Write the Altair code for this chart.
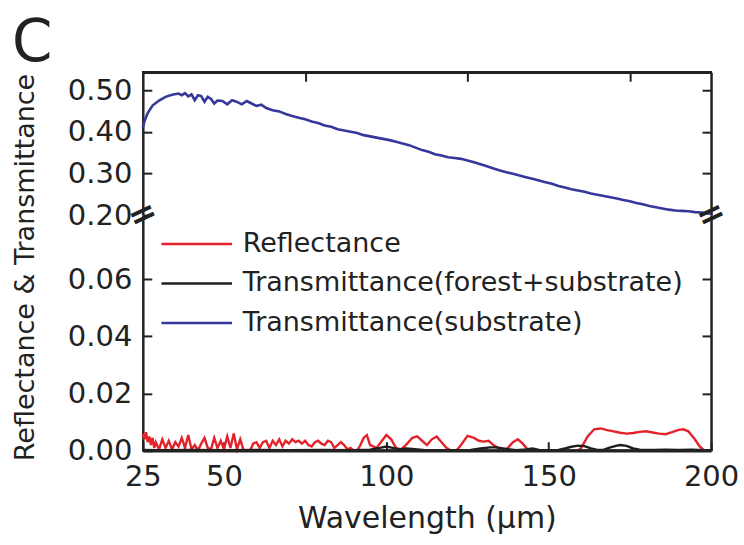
import altair as alt
import pandas as pd

FONT = "DejaVu Sans"
INK = "#222222"

SERIES = ["Reflectance", "Transmittance(forest+substrate)", "Transmittance(substrate)"]
COLORS = ["#E3232B", "#1E1E1E", "#35379A"]

# Transmittance (substrate) - upper panel
wl_sub = [25, 25.5, 26.5, 28, 30, 32, 34, 36, 37, 38, 39, 40, 41, 42, 43, 44, 45, 46, 47, 48,
          49.5, 51, 52.5, 54, 55.5, 57, 58.5, 60, 61.5, 63, 65, 67, 69, 71, 73, 75, 77, 79, 81, 83,
          85, 87, 89, 91, 93, 95, 97, 99, 101, 103, 105, 107, 109, 111, 113, 115, 117, 119, 121, 123,
          125, 127, 129, 131, 133, 135, 137, 139, 141, 143, 145, 147, 149, 151, 153, 155, 157, 159, 161, 163,
          165, 167, 169, 171, 173, 175, 177, 179, 181, 183, 185, 187, 189, 191, 193, 195, 197, 199, 200]
t_sub = [0.410, 0.425, 0.445, 0.463, 0.475, 0.484, 0.489, 0.492, 0.488, 0.493, 0.485, 0.490, 0.476, 0.488, 0.486, 0.472, 0.484, 0.479, 0.468, 0.475,
         0.474, 0.466, 0.476, 0.472, 0.466, 0.474, 0.468, 0.462, 0.465, 0.457, 0.452, 0.449, 0.443, 0.438, 0.434, 0.430, 0.425, 0.421, 0.415, 0.412,
         0.406, 0.403, 0.400, 0.397, 0.392, 0.389, 0.386, 0.383, 0.380, 0.376, 0.372, 0.368, 0.362, 0.356, 0.352, 0.346, 0.343, 0.339, 0.337, 0.335,
         0.331, 0.327, 0.322, 0.317, 0.312, 0.307, 0.303, 0.299, 0.295, 0.291, 0.287, 0.283, 0.279, 0.275, 0.270, 0.266, 0.262, 0.259, 0.256, 0.252,
         0.249, 0.246, 0.243, 0.240, 0.236, 0.233, 0.229, 0.226, 0.222, 0.219, 0.216, 0.213, 0.211, 0.210, 0.209, 0.207, 0.206, 0.204, 0.203]

# Reflectance - lower panel
wl_ref = [25, 25.5, 26, 26.5, 27, 27.5, 28, 28.5, 29, 30, 31, 32, 33, 34, 35, 36, 37, 38, 39, 40,
          41, 42, 43, 44, 45, 46, 47, 48, 49, 50, 51, 52, 53, 54, 55, 56, 57, 58, 59, 60,
          61, 62, 63, 64, 65, 66, 67, 68, 69, 70, 71, 72, 73, 74, 75, 76, 77, 78, 79, 80,
          81, 82, 83, 84, 85, 86, 87, 88, 89, 90, 91, 92, 93, 94, 95, 97, 99, 100, 101.5, 103,
          104.5, 106, 108, 109.5, 111, 112.5, 114, 115.5, 117, 118.5, 120, 121.5, 123, 125, 127, 128.5, 130, 131.5, 133, 135,
          137, 139, 140.5, 142, 143.5, 145, 150, 155, 159, 160, 162, 164, 166, 168, 170, 172, 174, 176, 178, 180,
          182, 184, 186, 188, 190, 191.5, 193, 195, 196.5, 198, 200]
refl = [0.0060, 0.0040, 0.0065, 0.0030, 0.0050, 0.0020, 0.0045, 0.0010, 0.0030, 0.0005, 0.0040, 0.0010, 0.0035, 0.0005, 0.0030, 0.0015, 0.0045, 0.0010, 0.0055, 0.0005,
        0.0020, 0.0002, 0.0025, 0.0045, 0.0010, 0.0005, 0.0045, 0.0010, 0.0035, 0.0005, 0.0050, 0.0010, 0.0060, 0.0005, 0.0040, 0.0003, 0.0000, 0.0000, 0.0025, 0.0030,
        0.0010, 0.0030, 0.0035, 0.0010, 0.0035, 0.0020, 0.0040, 0.0015, 0.0035, 0.0025, 0.0040, 0.0030, 0.0035, 0.0025, 0.0035, 0.0020, 0.0015, 0.0030, 0.0035, 0.0025,
        0.0020, 0.0035, 0.0030, 0.0010, 0.0020, 0.0030, 0.0020, 0.0005, 0.0010, 0.0000, 0.0000, 0.0020, 0.0045, 0.0055, 0.0020, 0.0010, 0.0040, 0.0055, 0.0040, 0.0010,
        0.0005, 0.0020, 0.0045, 0.0050, 0.0035, 0.0020, 0.0040, 0.0050, 0.0030, 0.0010, 0.0000, 0.0000, 0.0020, 0.0052, 0.0045, 0.0035, 0.0032, 0.0035, 0.0020, 0.0005,
        0.0005, 0.0030, 0.0040, 0.0025, 0.0005, 0.0000, 0.0000, 0.0000, 0.0000, 0.0010, 0.0050, 0.0075, 0.0078, 0.0072, 0.0068, 0.0063, 0.0060, 0.0062, 0.0066, 0.0068,
        0.0064, 0.0060, 0.0058, 0.0065, 0.0073, 0.0075, 0.0068, 0.0040, 0.0015, 0.0000, 0.0000]

# Transmittance (forest + substrate) - lower panel
wl_tf = [25, 30, 40, 50, 60, 70, 80, 90, 95, 98, 100, 102, 104, 106, 108, 112, 120, 126, 129, 132,
         134, 137, 140, 143, 145, 147, 150, 153, 155, 157, 159, 161, 163, 165, 167, 169, 171, 172, 174, 176,
         178, 182, 186, 190, 194, 198, 200]
t_forest = [0.0003, 0.0002, 0.0003, 0.0002, 0.0003, 0.0002, 0.0003, 0.0002, 0.0004, 0.0010, 0.0015, 0.0010, 0.0005, 0.0008, 0.0006, 0.0002, 0.0002, 0.0003, 0.0008, 0.0012,
            0.0012, 0.0006, 0.0002, 0.0005, 0.0008, 0.0003, 0.0002, 0.0003, 0.0008, 0.0014, 0.0018, 0.0016, 0.0008, 0.0003, 0.0004, 0.0012, 0.0018, 0.0020, 0.0017, 0.0008,
            0.0004, 0.0003, 0.0004, 0.0003, 0.0004, 0.0002, 0.0002]

X_MIN, X_MAX = 25, 200
TOP_MIN, TOP_MAX = 0.20, 0.543
LOW_MIN, LOW_MAX = 0.0, 0.0824

x_ticks_bottom = [25, 50, 100, 150, 200]
x_ticks_top = [75, 125, 175]
y_ticks_top = [0.20, 0.30, 0.40, 0.50]
y_ticks_top_right = [0.30, 0.40, 0.50]
y_ticks_low = [0.00, 0.02, 0.04, 0.06]
y_ticks_low_right = [0.02, 0.04, 0.06]
break_x = [25, 200]
break_y = [0.20, 0.20]

df_sub = pd.DataFrame({"wl": wl_sub, "val": t_sub, "series": SERIES[2]})
df_low = pd.concat([
    pd.DataFrame({"wl": wl_ref, "val": refl, "series": SERIES[0]}),
    pd.DataFrame({"wl": wl_tf, "val": t_forest, "series": SERIES[1]}),
], ignore_index=True)
df_break = pd.DataFrame({"bx": break_x, "by": break_y})
df_rt_top = pd.DataFrame({"v": y_ticks_top_right})
df_rt_low = pd.DataFrame({"v": y_ticks_low_right})

xs = alt.Scale(domain=[X_MIN, X_MAX], nice=False, zero=False)
ys_top = alt.Scale(domain=[TOP_MIN, TOP_MAX], nice=False, zero=False)
ys_low = alt.Scale(domain=[LOW_MIN, LOW_MAX], nice=False, zero=False)

W = 569
H_TOP = 143
H_LOW = 236

ax = dict(
    labelFont=FONT, labelFontSize=29, labelColor=INK,
    domain=True, domainColor=INK, domainWidth=2.5,
    ticks=True, tickColor=INK, tickWidth=2, tickSize=alt.ExprRef(expr="-9"),
    grid=False,
    titleFont=FONT, titleColor=INK, titleFontWeight="normal",
)

# ---------- upper panel ----------
top_line = alt.Chart(df_sub).mark_line(color=COLORS[2], strokeWidth=2.6).encode(
    x=alt.X("wl:Q", scale=xs,
            axis=alt.Axis(orient="top", values=x_ticks_top, labels=False, title=None, **ax)),
    y=alt.Y("val:Q", scale=ys_top,
            axis=alt.Axis(orient="left", values=y_ticks_top, format=".2f", title=None,
                          labelPadding=20, **ax)),
)
top_edge = alt.Chart(df_sub).mark_rule(color=INK, strokeWidth=2.5).encode(
    x=alt.datum(X_MIN, scale=xs, axis=None),
    x2=alt.datum(X_MAX),
    y=alt.datum(TOP_MAX, scale=ys_top, axis=None),
)
top_breaks = alt.Chart(df_break).mark_text(
    text="=", angle=335, fontSize=34, fontWeight="bold", color=INK, font=FONT
).encode(
    x=alt.X("bx:Q", scale=xs, axis=None),
    y=alt.Y("by:Q", scale=ys_top, axis=None),
)
top_right = alt.Chart(df_rt_top).mark_rule(opacity=0).encode(
    y=alt.Y("v:Q", scale=ys_top,
            axis=alt.Axis(orient="right", values=y_ticks_top_right, labels=False, title=None, **ax)),
)
top = alt.layer(top_line, top_edge, top_breaks, top_right).resolve_axis(
    x="independent", y="independent"
).properties(width=W, height=H_TOP)

# ---------- lower panel ----------
low_lines = alt.Chart(df_low).mark_line(strokeWidth=2.4).encode(
    x=alt.X("wl:Q", scale=xs,
            axis=alt.Axis(orient="bottom", values=x_ticks_bottom, title="Wavelength (μm)",
                          labelPadding=21, labelFlush=False, titlePadding=12,
                          titleFontSize=30, **ax)),
    y=alt.Y("val:Q", scale=ys_low,
            axis=alt.Axis(orient="left", values=y_ticks_low, format=".2f",
                          title="Reflectance & Transmittance", labelPadding=20,
                          titleFontSize=27,
                          titleAngle=270, titleAlign="center", titleBaseline="middle",
                          titleX=-117, titleY=52, **ax)),
    color=alt.Color("series:N", scale=alt.Scale(domain=SERIES, range=COLORS),
                    legend=alt.Legend(title=None, orient="none", legendX=35, legendY=10,
                                      padding=0,
                                      symbolType="M-2,0H2", symbolStrokeWidth=2.6,
                                      symbolSize=1250, symbolFillColor="transparent",
                                      labelFont=FONT, labelFontSize=27,
                                      labelColor=INK, labelOffset=27, rowPadding=7.5,
                                      labelLimit=600)),
)
low_edge = alt.Chart(df_rt_low).mark_rule(color=INK, strokeWidth=2.5).encode(
    x=alt.datum(X_MIN, scale=xs, axis=None),
    x2=alt.datum(X_MAX),
    y=alt.datum(LOW_MIN, scale=ys_low, axis=None),
)
low_right = alt.Chart(df_rt_low).mark_rule(opacity=0).encode(
    y=alt.Y("v:Q", scale=ys_low,
            axis=alt.Axis(orient="right", values=y_ticks_low_right, labels=False, title=None, **ax)),
)
low = alt.layer(low_lines, low_edge, low_right).resolve_axis(
    x="independent", y="independent"
).properties(width=W, height=H_LOW)

chart = alt.vconcat(top, low, spacing=0, bounds="flush").resolve_scale(
    color="independent"
).resolve_legend(color="independent").properties(
    title=alt.TitleParams("C", anchor="start", frame="bounds", font=FONT, fontSize=58,
                          fontWeight="normal", color=INK, offset=0, dx=0, dy=2),
    padding={"left": 11, "top": 14, "right": 5, "bottom": 5},
    background="white",
).configure_view(stroke=None)

chart.save("out.html", embed_options={"renderer": "svg", "actions": False})
